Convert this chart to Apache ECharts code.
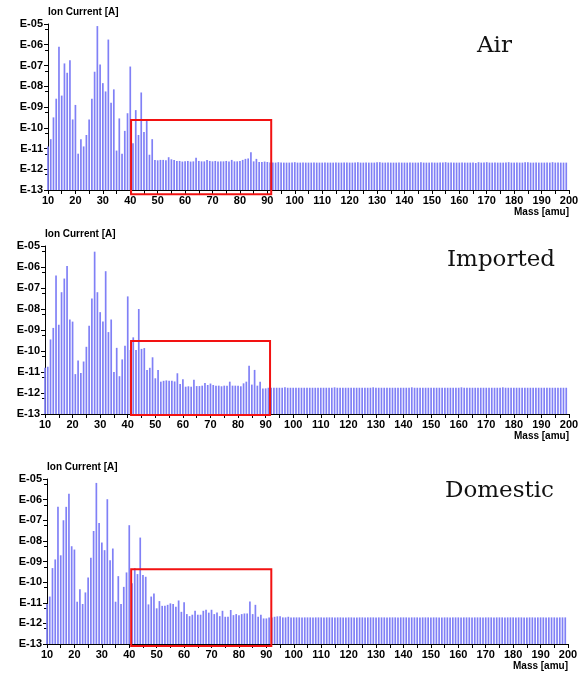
<!DOCTYPE html>
<html>
<head>
<meta charset="utf-8">
<title>Ion current mass spectra</title>
<script src="https://cdn.jsdelivr.net/npm/echarts@6/dist/echarts.min.js"></script>
<style>
html,body{margin:0;padding:0;background:#fff;}
#chart{width:586px;height:675px;}
</style>
</head>
<body>
<div id="chart"></div>
<script>
// mass numbers (amu), one bar per integer mass 10..199
var masses = [];
for (var m = 10; m <= 199; m++) masses.push(m);

// ion current, stored as log10 of the current in A
var airLog = [
  -10.9,-10.55,-9.5,-8.6,-6.1,-8.45,-6.9,-7.35,-6.75,-9.6,
  -8.9,-11.25,-10.55,-10.9,-10.35,-9.6,-8.6,-7.3,-5.1,-6.95,
  -7.85,-8.25,-5.75,-8.8,-8.15,-11.1,-9.55,-11.25,-10.15,-9.3,
  -7.05,-10.75,-9.15,-10.35,-8.3,-10.2,-9.65,-11.3,-10.55,-11.55,
  -11.57,-11.55,-11.55,-11.57,-11.42,-11.52,-11.55,-11.6,-11.6,-11.63,
  -11.62,-11.6,-11.63,-11.62,-11.45,-11.6,-11.62,-11.62,-11.55,-11.6,
  -11.62,-11.6,-11.63,-11.62,-11.62,-11.6,-11.63,-11.55,-11.62,-11.62,
  -11.6,-11.55,-11.5,-11.48,-11.18,-11.62,-11.5,-11.65,-11.65,-11.63,
  -11.65,
  -11.68,-11.68,-11.68,-11.66,-11.68,-11.68,-11.68,-11.68,-11.68,-11.66,
  -11.68,-11.68,-11.68,-11.68,-11.68,-11.68,-11.68,-11.68,-11.68,-11.68,
  -11.68,-11.68,-11.68,-11.68,-11.68,-11.68,-11.68,-11.68,-11.68,-11.68,
  -11.68,-11.68,-11.66,-11.68,-11.68,-11.68,-11.68,-11.68,-11.68,-11.66,
  -11.66,-11.68,-11.68,-11.68,-11.68,-11.68,-11.68,-11.68,-11.68,-11.68,
  -11.68,-11.68,-11.68,-11.68,-11.68,-11.66,-11.68,-11.68,-11.68,-11.68,
  -11.68,-11.68,-11.68,-11.68,-11.66,-11.68,-11.68,-11.68,-11.68,-11.68,
  -11.68,-11.68,-11.68,-11.68,-11.68,-11.7,-11.66,-11.68,-11.68,-11.66,
  -11.68,-11.68,-11.68,-11.68,-11.68,-11.68,-11.68,-11.66,-11.68,-11.68,
  -11.68,-11.68,-11.68,-11.66,-11.66,-11.68,-11.68,-11.68,-11.68,-11.68,
  -11.68,-11.68,-11.68,-11.66,-11.68,-11.68,-11.68,-11.68,-11.68
];

var importedLog = [
  -10.8,-10.75,-9.45,-8.9,-6.4,-8.75,-7.2,-6.55,-5.95,-8.5,
  -8.6,-11.1,-10.45,-11.05,-10.5,-9.8,-8.8,-7.5,-5.27,-7.2,
  -8.15,-8.6,-6.2,-9.1,-8.5,-11.0,-9.85,-11.2,-10.4,-9.75,
  -7.4,-9.95,-9.35,-9.95,-8.0,-9.9,-9.86,-10.9,-10.8,-10.3,
  -11.3,-10.9,-11.46,-11.42,-11.4,-11.42,-11.42,-11.45,-11.06,-11.57,
  -11.35,-11.7,-11.68,-11.7,-11.37,-11.67,-11.67,-11.65,-11.52,-11.62,
  -11.55,-11.62,-11.65,-11.65,-11.68,-11.65,-11.65,-11.46,-11.65,-11.65,
  -11.65,-11.68,-11.54,-11.46,-10.7,-11.6,-10.9,-11.65,-11.46,-11.78,
  -11.78,
  -11.75,-11.75,-11.75,-11.75,-11.75,-11.75,-11.73,-11.75,-11.75,-11.75,
  -11.75,-11.75,-11.75,-11.75,-11.75,-11.75,-11.75,-11.75,-11.75,-11.75,
  -11.75,-11.75,-11.75,-11.75,-11.73,-11.75,-11.75,-11.75,-11.75,-11.75,
  -11.75,-11.75,-11.75,-11.75,-11.75,-11.75,-11.75,-11.75,-11.73,-11.75,
  -11.75,-11.75,-11.75,-11.75,-11.75,-11.75,-11.75,-11.75,-11.75,-11.75,
  -11.75,-11.75,-11.73,-11.75,-11.75,-11.75,-11.75,-11.75,-11.75,-11.75,
  -11.75,-11.75,-11.75,-11.75,-11.75,-11.75,-11.75,-11.75,-11.75,-11.75,
  -11.73,-11.75,-11.75,-11.75,-11.75,-11.75,-11.75,-11.75,-11.75,-11.75,
  -11.75,-11.75,-11.75,-11.75,-11.75,-11.73,-11.75,-11.75,-11.75,-11.75,
  -11.75,-11.75,-11.75,-11.75,-11.75,-11.75,-11.75,-11.75,-11.75,-11.75,
  -11.75,-11.75,-11.75,-11.75,-11.75,-11.75,-11.75,-11.75,-11.75
];

var domesticLog = [
  -11.06,-10.7,-9.32,-8.9,-6.35,-8.7,-7.0,-6.35,-5.71,-8.26,
  -8.42,-10.95,-10.34,-11.06,-10.5,-9.77,-8.82,-7.52,-5.19,-7.13,
  -8.08,-8.45,-5.98,-8.94,-8.37,-10.95,-9.71,-11.06,-10.23,-9.53,
  -7.24,-10.06,-9.32,-9.61,-7.84,-9.65,-9.74,-11.08,-10.7,-10.55,
  -11.27,-10.92,-11.15,-11.15,-11.1,-11.03,-11.06,-11.19,-10.89,-11.44,
  -10.98,-11.55,-11.65,-11.58,-11.39,-11.58,-11.58,-11.39,-11.34,-11.48,
  -11.34,-11.55,-11.47,-11.65,-11.39,-11.68,-11.68,-11.35,-11.6,-11.55,
  -11.6,-11.55,-11.52,-11.52,-10.94,-11.55,-11.1,-11.68,-11.58,-11.76,
  -11.76,
  -11.71,-11.71,-11.68,-11.66,-11.66,-11.71,-11.71,-11.68,-11.71,-11.71,
  -11.71,-11.71,-11.71,-11.71,-11.71,-11.71,-11.71,-11.71,-11.71,-11.71,
  -11.71,-11.71,-11.71,-11.71,-11.71,-11.71,-11.71,-11.71,-11.71,-11.71,
  -11.71,-11.71,-11.71,-11.71,-11.71,-11.71,-11.71,-11.71,-11.71,-11.71,
  -11.71,-11.71,-11.71,-11.71,-11.71,-11.71,-11.71,-11.71,-11.71,-11.71,
  -11.71,-11.71,-11.71,-11.71,-11.71,-11.71,-11.71,-11.71,-11.71,-11.71,
  -11.71,-11.71,-11.71,-11.71,-11.71,-11.71,-11.71,-11.71,-11.71,-11.71,
  -11.71,-11.71,-11.71,-11.71,-11.71,-11.71,-11.71,-11.71,-11.71,-11.71,
  -11.71,-11.71,-11.71,-11.71,-11.71,-11.71,-11.71,-11.71,-11.71,-11.71,
  -11.71,-11.71,-11.71,-11.71,-11.71,-11.71,-11.71,-11.71,-11.71,-11.71,
  -11.71,-11.71,-11.71,-11.71,-11.71,-11.71,-11.71,-11.71,-11.71
];

var sampleNames = ['Air', 'Imported', 'Domestic'];
var sampleLogs = [airLog, importedLog, domesticLog];

// highlighted mass window (amu) and its current span (log10 A), per panel
var boxMassFrom = [40.3, 41.2, 40.7];
var boxMassTo = [91.4, 91.6, 91.8];
var boxTopLog = [-9.63, -9.52, -9.38];
var boxBottomLog = [-13.2, -13.05, -13.1];

var grids = [
  {left: 48, top: 24, width: 521, height: 166},
  {left: 45, top: 246, width: 524, height: 168},
  {left: 47, top: 479, width: 521, height: 165}
];
var titlePos = [[477, 46], [447, 260], [445, 491]];

var font = 'Liberation Sans, Arial, sans-serif';

function expLabel(v) {
  var e = Math.round(-Math.log10(v));
  return 'E-' + (e < 10 ? '0' : '') + e;
}

var chart = echarts.init(document.getElementById('chart'));

var xAxes = [], yAxes = [], series = [], graphics = [];
for (var i = 0; i < 3; i++) {
  xAxes.push({
    type: 'value', gridIndex: i, min: 10, max: 200, interval: 10,
    axisLine: {show: true, onZero: false, lineStyle: {color: '#000', width: 1}},
    axisTick: {show: true, length: 4, lineStyle: {color: '#000'}},
    minorTick: {show: true, splitNumber: 2, length: 4, lineStyle: {color: '#000'}},
    splitLine: {show: false},
    axisLabel: {color: '#000', fontWeight: 'bold', fontSize: 11, fontFamily: font, margin: 5},
    name: 'Mass [amu]', nameLocation: 'end', nameGap: 0,
    nameTextStyle: {align: 'right', verticalAlign: 'top', padding: [17, 0, 0, 0],
      color: '#000', fontWeight: 'bold', fontSize: 10, fontFamily: font}
  });
  yAxes.push({
    type: 'log', logBase: 10, gridIndex: i, min: 1e-13, max: 1e-5, startValue: 1e-13,
    axisLine: {show: true, lineStyle: {color: '#000', width: 1}},
    axisTick: {show: true, length: 4, lineStyle: {color: '#000'}},
    minorTick: {show: true, splitNumber: 2, length: 3, lineStyle: {color: '#000'}},
    splitLine: {show: false},
    axisLabel: {formatter: expLabel, color: '#000', fontWeight: 'bold', fontSize: 11, fontFamily: font, margin: 5},
    name: 'Ion Current [A]', nameLocation: 'end', nameGap: 7,
    nameTextStyle: {align: 'left', color: '#000', fontWeight: 'bold', fontSize: 10, fontFamily: font}
  });
  var logs = sampleLogs[i];
  series.push({
    type: 'bar', xAxisIndex: i, yAxisIndex: i, barWidth: 1.7,
    itemStyle: {color: '#8080f6'},
    data: masses.map(function (m, k) { return [m, Math.pow(10, logs[k])]; })
  });
  graphics.push({
    type: 'text', x: titlePos[i][0], y: titlePos[i][1],
    style: {text: sampleNames[i], fill: '#111', font: '23px "DejaVu Serif", serif', textVerticalAlign: 'middle'}
  });
}

chart.setOption({
  animation: false,
  backgroundColor: '#fff',
  grid: grids,
  xAxis: xAxes,
  yAxis: yAxes,
  series: series,
  graphic: graphics
});

// red frames around the ~40-91 amu window, placed through the axes
var boxes = [];
for (var j = 0; j < 3; j++) {
  var p1 = chart.convertToPixel({gridIndex: j}, [boxMassFrom[j], Math.pow(10, boxTopLog[j])]);
  var p2 = chart.convertToPixel({gridIndex: j}, [boxMassTo[j], Math.pow(10, boxBottomLog[j])]);
  boxes.push({
    type: 'rect', z: 100,
    shape: {x: p1[0], y: p1[1], width: p2[0] - p1[0], height: p2[1] - p1[1]},
    style: {fill: null, stroke: '#f21212', lineWidth: 2}
  });
}
chart.setOption({graphic: graphics.concat(boxes)});
</script>
</body>
</html>
